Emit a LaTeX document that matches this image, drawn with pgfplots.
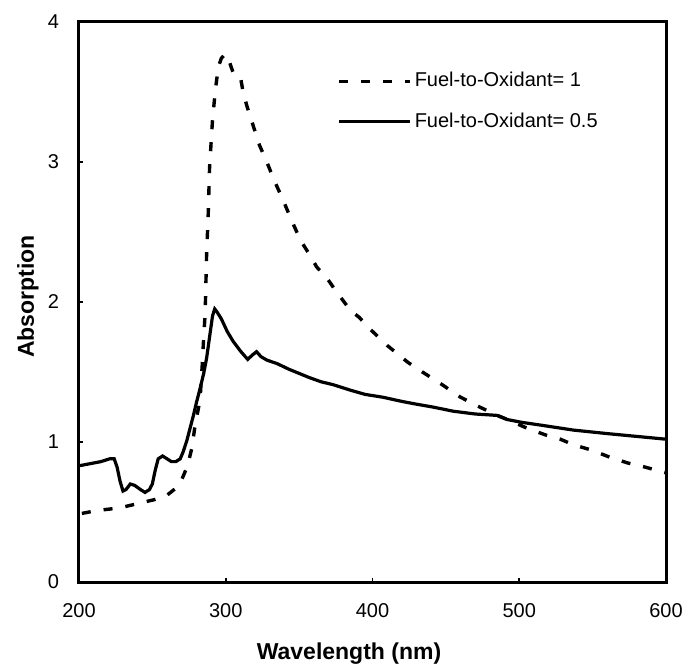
\documentclass[border=0pt]{standalone}
\usepackage{fontspec}
\setmainfont{Liberation Sans}
\usepackage{pgfplots}
\pgfplotsset{compat=1.18}

\begin{document}
\begin{tikzpicture}
  \begin{axis}[
      scale only axis,
      width=293.5pt, height=280pt,
      xmin=200, xmax=600, ymin=0, ymax=4,
      xtick={200,300,400,500,600}, ytick={0,1,2,3,4},
      xtick pos=bottom, ytick pos=left,
      tick align=inside, major tick length=2pt,
      axis line style={line width=1.5pt},
      every tick/.style={black, line width=0.8pt},
      /pgf/number format/assume math mode=true,
      tick label style={font=\fontsize{10}{12}\selectfont},
      yticklabel style={xshift=-6.5pt},
      xticklabel style={yshift=-7pt},
      xlabel={Wavelength (nm)}, ylabel={Absorption},
      label style={font=\fontsize{11.5}{13}\selectfont\bfseries},
      xlabel style={at={(axis description cs:0.46,-0.127)}, anchor=center},
      ylabel style={at={(axis description cs:-0.087,0.51)}, anchor=center},
      clip=false,
      legend cell align=left,
      legend image code/.code={\draw[#1] (0pt,0pt) -- (35.5pt,0pt);},
      legend style={draw=none, fill=none, font=\fontsize{10}{12}\selectfont,
        at={(axis cs:375.8,3.432)}, anchor=west, row sep=8.5pt,
        inner sep=0pt, nodes={inner sep=1.5pt}},
    ]
    \addplot[black, line width=1.7pt, dash pattern=on 4.5pt off 6.5pt] coordinates {
      (202,0.49) (212,0.51) (220,0.52) (228,0.53) (236,0.55) (244,0.57)
      (252,0.59) (260,0.62) (266,0.67) (270,0.73) (274,0.83) (277,0.96)
      (279,1.11) (281,1.22) (282.5,1.30) (284,1.55) (285,1.75) (286,1.92)
      (287,2.35) (288,2.6) (289,2.96) (291,3.3) (293,3.52) (295,3.68)
      (297,3.74) (299.5,3.77) (301,3.76) (303,3.70) (305,3.64) (308,3.63)
      (310,3.61) (312,3.49) (315,3.38) (319,3.25) (323,3.12) (328,3.0)
      (333,2.87) (339,2.73) (345,2.58) (351,2.44) (357,2.34) (362,2.25)
      (369,2.17) (375,2.08) (380,2.01) (385,1.94) (391,1.89) (397,1.82)
      (403,1.76) (410,1.69) (417,1.63) (424,1.57) (434,1.50) (446,1.42)
      (460,1.32) (473,1.25) (485,1.19) (492,1.16) (505,1.10) (518,1.05)
      (528,1.02) (537,0.98) (550,0.94) (562,0.89) (574,0.85) (586,0.82)
      (600,0.78)};
    \addlegendentry{Fuel-to-Oxidant= 1}
    \addplot[black, line width=1.6pt] coordinates {
      (200,0.83) (205,0.84) (210,0.85) (215,0.86) (221,0.88) (224,0.88)
      (226,0.82) (228,0.72) (230,0.65) (232,0.66) (235,0.70) (238,0.69)
      (242,0.66) (245,0.64) (248,0.66) (250,0.70) (252,0.80) (254,0.88)
      (257,0.90) (260,0.88) (263,0.86) (266,0.86) (269,0.88) (271,0.93)
      (273.5,1.01) (276,1.11) (278,1.19) (280,1.28) (282,1.36) (285,1.49)
      (287,1.60) (289,1.75) (291,1.90) (292.5,1.95) (294,1.93) (297,1.88)
      (301,1.79) (305,1.72) (310,1.65) (315,1.59) (318,1.62) (321,1.645)
      (324,1.61) (328,1.585) (335,1.56) (343,1.52) (350,1.49) (357,1.46)
      (365,1.43) (373,1.41) (385,1.37) (395,1.34) (407,1.32) (420,1.29)
      (430,1.27) (441,1.25) (455,1.22) (470,1.20) (485,1.19) (492,1.16)
      (502,1.14) (515,1.12) (537,1.085) (560,1.06) (580,1.04) (600,1.02)};
    \addlegendentry{Fuel-to-Oxidant= 0.5}
    \path (axis cs:146.2,-0.557) rectangle (axis cs:621.8,4.157);
  \end{axis}
\end{tikzpicture}
\end{document}
